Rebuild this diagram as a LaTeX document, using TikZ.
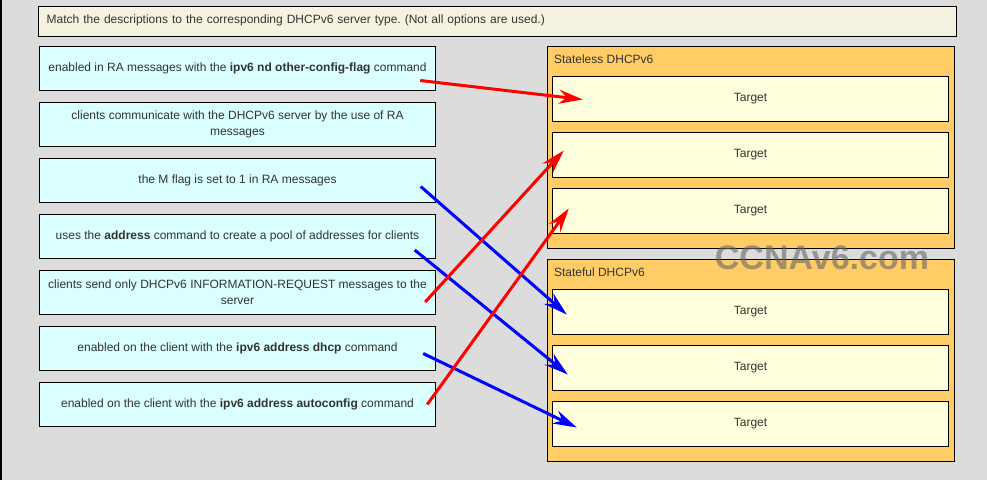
\documentclass[tikz,border=0pt]{standalone}
\usepackage{fontspec}
\setmainfont{Liberation Sans}
\usetikzlibrary{arrows.meta,positioning,calc}
\frenchspacing

\definecolor{bggray}{HTML}{DCDCDC}
\definecolor{titlefill}{HTML}{F5F3E0}
\definecolor{descfill}{HTML}{D9FFFF}
\definecolor{groupfill}{HTML}{FFCC66}
\definecolor{targetfill}{HTML}{FFFFDD}
\definecolor{txt}{HTML}{333333}
\definecolor{redline}{HTML}{FF0000}
\definecolor{blueline}{HTML}{0000FF}

\begin{document}
\begin{tikzpicture}[x=1pt,y=-1pt,
  every node/.style={text=txt, font=\fontsize{12}{16}\selectfont},
  desc/.style={draw=black, fill=descfill, minimum width=396pt, minimum height=44pt, inner sep=0pt, align=center},
  target/.style={draw=black, fill=targetfill, minimum width=396pt, minimum height=45pt, inner sep=0pt},
  group/.style={draw=black, fill=groupfill, minimum width=407pt, minimum height=202pt, inner sep=0pt},
  grouplabel/.style={anchor=west, inner sep=0pt},
  redarrow/.style={draw=redline, line width=3pt, -{Stealth[length=24pt,width=14pt,inset=8pt]}},
  bluearrow/.style={draw=blueline, line width=3pt, -{Stealth[length=24pt,width=14pt,inset=8pt]}},
  watermark/.style={text=black!60, opacity=0.6, font=\fontsize{34}{34}\selectfont\bfseries}]
\fill[bggray] (0,0) rectangle (987,480);
\useasboundingbox (0,0) rectangle (987,480);
\draw[black, line width=1.5pt] (0.75,0) -- (0.75,480);

% question
\node[draw=black, fill=titlefill, anchor=north west, text width=900pt, inner xsep=9pt, minimum height=30pt, align=left] (title) at (37.5,5.5) {Match the descriptions to the corresponding DHCPv6 server type. (Not all options are used.)};

% descriptions
\node[desc] (d1) at (237.5,68.5) {enabled in RA messages with the \textbf{ipv6 nd other-config-flag} command};
\node[desc] (d2) at (237.5,124.5) {clients communicate with the DHCPv6 server by the use of RA\\messages};
\node[desc] (d3) at (237.5,180.5) {the M flag is set to 1 in RA messages};
\node[desc] (d4) at (237.5,236.5) {uses the \textbf{address} command to create a pool of addresses for clients};
\node[desc] (d5) at (237.5,292.5) {clients send only DHCPv6 INFORMATION-REQUEST messages to the\\server};
\node[desc] (d6) at (237.5,348.5) {enabled on the client with the \textbf{ipv6 address dhcp} command};
\node[desc] (d7) at (237.5,404.5) {enabled on the client with the \textbf{ipv6 address autoconfig} command};

% server types
\node[group] (sl) at (751,147.5) {};
\node[grouplabel] (sllabel) at ([xshift=6.5pt,yshift=-13pt]sl.north west) {Stateless DHCPv6};
\node[target] (t1) at (750.5,99) {Target};
\node[target] (t2) at (750.5,155) {Target};
\node[target] (t3) at (750.5,211) {Target};

\node[group] (sf) at (751,360.5) {};
\node[grouplabel] (sflabel) at ([xshift=6.5pt,yshift=-13pt]sf.north west) {Stateful DHCPv6};
\node[target] (t4) at (750.5,312) {Target};
\node[target] (t5) at (750.5,368) {Target};
\node[target] (t6) at (750.5,424) {Target};

\node[watermark] (wm) at (822,258) {CCNAv6.com};

% answers
\draw[bluearrow] ([xshift=-15pt,yshift=-6pt]d3.east) -- ([xshift=14.5pt,yshift=-2.5pt]t4.west);
\draw[bluearrow] ([xshift=-21pt,yshift=-13.5pt]d4.east) -- ([xshift=15.5pt,yshift=-6.5pt]t5.west);
\draw[bluearrow] ([xshift=-12.5pt,yshift=-5pt]d6.east) -- ([xshift=24.5pt,yshift=-3.5pt]t6.west);
\draw[redarrow] ([xshift=-15.5pt,yshift=-12pt]d1.east) -- ([xshift=30.5pt,yshift=-0.5pt]t1.west);
\draw[redarrow] ([xshift=-10.5pt,yshift=-9.5pt]d5.east) -- ([xshift=11.5pt,yshift=4.5pt]t2.west);
\draw[redarrow] ([xshift=-8.5pt]d7.east) -- ([xshift=16.5pt,yshift=2.5pt]t3.west);
\end{tikzpicture}
\end{document}
